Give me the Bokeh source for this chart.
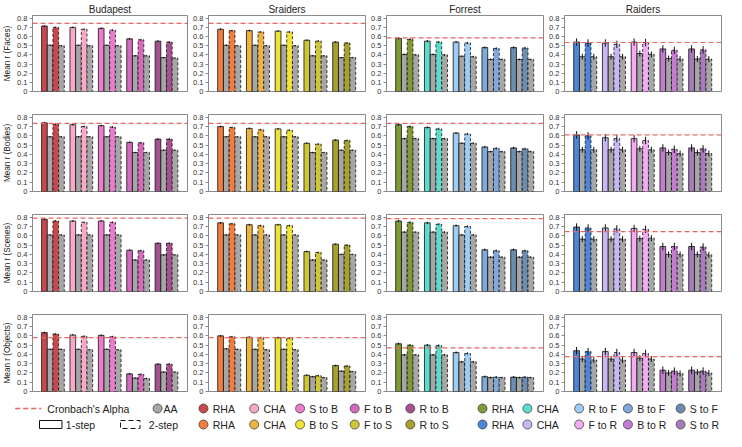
import numpy as np
from bokeh.plotting import figure
from bokeh.layouts import column, row
from bokeh.models import Range1d, Span, FixedTicker, ColumnDataSource
from bokeh.core.properties import value
from bokeh.embed import file_html
from bokeh.resources import INLINE

# ---------------- data ----------------
MOVIES = ["Budapest", "Sraiders", "Forrest", "Raiders"]
CATEGORIES = ["Faces", "Bodies", "Scenes", "Objects"]

MODELS_BUD = ["RHA", "CHA", "S to B", "F to B", "R to B"]
MODELS_SRA = ["RHA", "CHA", "B to S", "F to S", "R to S"]
MODELS_FOR = ["RHA", "CHA", "R to F", "B to F", "S to F"]
MODELS_RAI = ["RHA", "CHA", "F to R", "B to R", "S to R"]

COLORS_BUD = ["#C9484B", "#F7A9C9", "#EC7DCC", "#D56ABD", "#A5508F"]
COLORS_SRA = ["#F27D3F", "#EEB340", "#F0E334", "#CEC636", "#A7A22D"]
COLORS_FOR = ["#7E9B36", "#5DDCCC", "#9DCDF5", "#7FA9DB", "#6C8CB1"]
COLORS_RAI = ["#4A87DB", "#C7B7F5", "#F4ABF3", "#C67BD3", "#AA7BBC"]
AA_COLOR = "#A6A6A6"
ALPHA_COLOR = "#E8675F"

Y_TICKS = [0, 0.1, 0.2, 0.3, 0.4, 0.5, 0.6, 0.7, 0.8]
Y_TICK_LABELS = ["0", "0.1", "0.2", "0.3", "0.4", "0.5", "0.6", "0.7", "0.8"]

# Faces
BUD_FACES_1 = [0.715, 0.700, 0.690, 0.575, 0.550]
BUD_FACES_AA1 = [0.505, 0.505, 0.505, 0.390, 0.370]
BUD_FACES_2 = [0.700, 0.680, 0.670, 0.565, 0.540]
BUD_FACES_AA2 = [0.500, 0.500, 0.500, 0.390, 0.365]
SRA_FACES_1 = [0.680, 0.665, 0.660, 0.560, 0.540]
SRA_FACES_AA1 = [0.505, 0.505, 0.505, 0.390, 0.370]
SRA_FACES_2 = [0.665, 0.650, 0.650, 0.550, 0.530]
SRA_FACES_AA2 = [0.500, 0.500, 0.500, 0.390, 0.370]
FOR_FACES_1 = [0.580, 0.550, 0.540, 0.480, 0.480]
FOR_FACES_AA1 = [0.405, 0.405, 0.385, 0.350, 0.350]
FOR_FACES_2 = [0.570, 0.540, 0.530, 0.470, 0.475]
FOR_FACES_AA2 = [0.400, 0.400, 0.380, 0.350, 0.350]
RAI_FACES_1 = [0.540, 0.530, 0.540, 0.465, 0.465]
RAI_FACES_AA1 = [0.380, 0.380, 0.415, 0.360, 0.355]
RAI_FACES_2 = [0.530, 0.515, 0.535, 0.450, 0.455]
RAI_FACES_AA2 = [0.380, 0.380, 0.405, 0.355, 0.355]

# Bodies
BUD_BODIES_1 = [0.740, 0.720, 0.710, 0.530, 0.565]
BUD_BODIES_AA1 = [0.590, 0.590, 0.590, 0.420, 0.445]
BUD_BODIES_2 = [0.725, 0.700, 0.695, 0.525, 0.565]
BUD_BODIES_AA2 = [0.590, 0.590, 0.590, 0.420, 0.445]
SRA_BODIES_1 = [0.700, 0.680, 0.675, 0.520, 0.555]
SRA_BODIES_AA1 = [0.590, 0.590, 0.590, 0.420, 0.445]
SRA_BODIES_2 = [0.690, 0.665, 0.660, 0.510, 0.550]
SRA_BODIES_AA2 = [0.590, 0.590, 0.590, 0.420, 0.445]
FOR_BODIES_1 = [0.720, 0.690, 0.630, 0.480, 0.470]
FOR_BODIES_AA1 = [0.570, 0.570, 0.520, 0.430, 0.430]
FOR_BODIES_2 = [0.700, 0.675, 0.620, 0.465, 0.460]
FOR_BODIES_AA2 = [0.570, 0.570, 0.520, 0.430, 0.430]
RAI_BODIES_1 = [0.610, 0.580, 0.570, 0.470, 0.470]
RAI_BODIES_AA1 = [0.450, 0.450, 0.460, 0.420, 0.420]
RAI_BODIES_2 = [0.600, 0.570, 0.550, 0.455, 0.460]
RAI_BODIES_AA2 = [0.450, 0.450, 0.450, 0.410, 0.410]

# Scenes
BUD_SCENES_1 = [0.780, 0.760, 0.760, 0.445, 0.520]
BUD_SCENES_AA1 = [0.610, 0.610, 0.610, 0.340, 0.395]
BUD_SCENES_2 = [0.760, 0.745, 0.745, 0.440, 0.520]
BUD_SCENES_AA2 = [0.610, 0.610, 0.610, 0.340, 0.395]
SRA_SCENES_1 = [0.740, 0.720, 0.720, 0.430, 0.510]
SRA_SCENES_AA1 = [0.610, 0.610, 0.610, 0.340, 0.400]
SRA_SCENES_2 = [0.730, 0.710, 0.710, 0.420, 0.500]
SRA_SCENES_AA2 = [0.610, 0.610, 0.610, 0.340, 0.400]
FOR_SCENES_1 = [0.760, 0.740, 0.710, 0.450, 0.450]
FOR_SCENES_AA1 = [0.640, 0.640, 0.610, 0.370, 0.370]
FOR_SCENES_2 = [0.745, 0.725, 0.700, 0.440, 0.440]
FOR_SCENES_AA2 = [0.640, 0.640, 0.610, 0.370, 0.370]
RAI_SCENES_1 = [0.695, 0.685, 0.680, 0.485, 0.485]
RAI_SCENES_AA1 = [0.565, 0.565, 0.570, 0.400, 0.400]
RAI_SCENES_2 = [0.685, 0.675, 0.670, 0.485, 0.480]
RAI_SCENES_AA2 = [0.565, 0.565, 0.575, 0.400, 0.395]

# Objects
BUD_OBJECTS_1 = [0.635, 0.610, 0.605, 0.190, 0.295]
BUD_OBJECTS_AA1 = [0.455, 0.455, 0.455, 0.145, 0.210]
BUD_OBJECTS_2 = [0.620, 0.595, 0.590, 0.185, 0.295]
BUD_OBJECTS_AA2 = [0.455, 0.450, 0.450, 0.140, 0.210]
SRA_OBJECTS_1 = [0.600, 0.585, 0.580, 0.175, 0.280]
SRA_OBJECTS_AA1 = [0.460, 0.455, 0.455, 0.160, 0.220]
SRA_OBJECTS_2 = [0.590, 0.580, 0.575, 0.170, 0.275]
SRA_OBJECTS_AA2 = [0.455, 0.450, 0.450, 0.150, 0.215]
FOR_OBJECTS_1 = [0.515, 0.500, 0.420, 0.160, 0.155]
FOR_OBJECTS_AA1 = [0.395, 0.395, 0.320, 0.150, 0.150]
FOR_OBJECTS_2 = [0.500, 0.495, 0.410, 0.155, 0.155]
FOR_OBJECTS_AA2 = [0.395, 0.395, 0.320, 0.150, 0.150]
RAI_OBJECTS_1 = [0.440, 0.430, 0.420, 0.230, 0.230]
RAI_OBJECTS_AA1 = [0.350, 0.350, 0.360, 0.200, 0.210]
RAI_OBJECTS_2 = [0.430, 0.420, 0.410, 0.220, 0.220]
RAI_OBJECTS_AA2 = [0.340, 0.340, 0.350, 0.195, 0.200]

# Cronbach's alpha (per movie) for each category
ALPHA_FACES = [0.745, 0.745, 0.585, 0.535]
ALPHA_BODIES = [0.735, 0.735, 0.735, 0.610]
ALPHA_SCENES = [0.790, 0.790, 0.785, 0.645]
ALPHA_OBJECTS = [0.580, 0.580, 0.470, 0.375]

# standard errors (model bars, AA bars) per movie
ERR_MODEL = [0.010, 0.010, 0.012, 0.040]
ERR_AA = [0.008, 0.008, 0.010, 0.032]

PANELS = {
    ("Faces", 0): (BUD_FACES_1, BUD_FACES_AA1, BUD_FACES_2, BUD_FACES_AA2),
    ("Faces", 1): (SRA_FACES_1, SRA_FACES_AA1, SRA_FACES_2, SRA_FACES_AA2),
    ("Faces", 2): (FOR_FACES_1, FOR_FACES_AA1, FOR_FACES_2, FOR_FACES_AA2),
    ("Faces", 3): (RAI_FACES_1, RAI_FACES_AA1, RAI_FACES_2, RAI_FACES_AA2),
    ("Bodies", 0): (BUD_BODIES_1, BUD_BODIES_AA1, BUD_BODIES_2, BUD_BODIES_AA2),
    ("Bodies", 1): (SRA_BODIES_1, SRA_BODIES_AA1, SRA_BODIES_2, SRA_BODIES_AA2),
    ("Bodies", 2): (FOR_BODIES_1, FOR_BODIES_AA1, FOR_BODIES_2, FOR_BODIES_AA2),
    ("Bodies", 3): (RAI_BODIES_1, RAI_BODIES_AA1, RAI_BODIES_2, RAI_BODIES_AA2),
    ("Scenes", 0): (BUD_SCENES_1, BUD_SCENES_AA1, BUD_SCENES_2, BUD_SCENES_AA2),
    ("Scenes", 1): (SRA_SCENES_1, SRA_SCENES_AA1, SRA_SCENES_2, SRA_SCENES_AA2),
    ("Scenes", 2): (FOR_SCENES_1, FOR_SCENES_AA1, FOR_SCENES_2, FOR_SCENES_AA2),
    ("Scenes", 3): (RAI_SCENES_1, RAI_SCENES_AA1, RAI_SCENES_2, RAI_SCENES_AA2),
    ("Objects", 0): (BUD_OBJECTS_1, BUD_OBJECTS_AA1, BUD_OBJECTS_2, BUD_OBJECTS_AA2),
    ("Objects", 1): (SRA_OBJECTS_1, SRA_OBJECTS_AA1, SRA_OBJECTS_2, SRA_OBJECTS_AA2),
    ("Objects", 2): (FOR_OBJECTS_1, FOR_OBJECTS_AA1, FOR_OBJECTS_2, FOR_OBJECTS_AA2),
    ("Objects", 3): (RAI_OBJECTS_1, RAI_OBJECTS_AA1, RAI_OBJECTS_2, RAI_OBJECTS_AA2),
}
ALPHAS = {"Faces": ALPHA_FACES, "Bodies": ALPHA_BODIES, "Scenes": ALPHA_SCENES, "Objects": ALPHA_OBJECTS}
COLORS = [COLORS_BUD, COLORS_SRA, COLORS_FOR, COLORS_RAI]
MODELS = [MODELS_BUD, MODELS_SRA, MODELS_FOR, MODELS_RAI]

# ---------------- style / layout ----------------
FONT = "Liberation Sans"
FW, FH = 158, 77
LEFT = [29, 17, 17, 17]
RIGHT = 3
TOP = [14, 17, 17, 17]
BOTTOM = 6
X_START, X_END = -0.72, 4.74
Y_TOP = 0.83
BAR_W = 0.2
OFFSETS = [-0.3, -0.1, 0.1, 0.3]
DASH = "3 2"


def make_panel(cat_i, mov_i):
    cat = CATEGORIES[cat_i]
    w = LEFT[mov_i] + FW + RIGHT
    h = TOP[cat_i] + FH + BOTTOM
    p = figure(width=w, height=h, x_range=Range1d(X_START, X_END), y_range=Range1d(0, Y_TOP),
               output_backend="svg", toolbar_location=None,
               min_border_left=LEFT[mov_i], min_border_right=RIGHT,
               min_border_top=TOP[cat_i], min_border_bottom=BOTTOM)
    p.xaxis.visible = False
    p.xgrid.visible = False
    p.ygrid.visible = False
    p.outline_line_color = "#8a8a8a"
    p.outline_line_width = 1
    ax = p.yaxis[0]
    ax.ticker = FixedTicker(ticks=Y_TICKS)
    ax.major_label_overrides = {t: l for t, l in zip(Y_TICKS, Y_TICK_LABELS)}
    ax.major_label_text_font = FONT
    ax.major_label_text_font_size = "7.5px"
    ax.major_label_text_color = "#333333"
    ax.major_label_standoff = 2
    ax.major_tick_out = 3
    ax.major_tick_in = 0
    ax.minor_tick_out = 0
    ax.minor_tick_in = 0
    ax.axis_line_color = "#8a8a8a"
    ax.major_tick_line_color = "#8a8a8a"
    if mov_i == 0:
        ax.axis_label = "Mean r (" + cat + ")"
        ax.axis_label_text_font = FONT
        ax.axis_label_text_font_size = "8.2px"
        ax.axis_label_text_font_style = "normal"
        ax.axis_label_text_color = "#222222"
        ax.axis_label_standoff = 2

    if cat_i == 0:
        p.title.text = MOVIES[mov_i]
        p.title.align = "center"
        p.title.text_font = FONT
        p.title.text_font_size = "10px"
        p.title.text_font_style = "normal"
        p.title.text_color = "#222222"
        p.title.standoff = 2
        p.title.offset = 0

    vals = PANELS[(cat, mov_i)]
    x = np.arange(len(MODELS[mov_i]))
    errs = [ERR_MODEL[mov_i], ERR_AA[mov_i], ERR_MODEL[mov_i], ERR_AA[mov_i]]
    fills = [COLORS[mov_i], [AA_COLOR] * 5, COLORS[mov_i], [AA_COLOR] * 5]
    dashes = ["solid", "solid", DASH, DASH]
    for k in range(4):
        v = np.array(vals[k])
        src = ColumnDataSource(dict(x=x + OFFSETS[k], top=v, fill=fills[k],
                                    lo=v - errs[k], hi=v + errs[k]))
        p.vbar(x="x", top="top", bottom=0, width=BAR_W, fill_color="fill",
               line_color="#111111", line_width=0.8, line_dash=dashes[k], source=src)
        p.segment(x0="x", x1="x", y0="lo", y1="hi", line_color="#111111",
                  line_width=1, source=src)

    p.add_layout(Span(location=ALPHAS[cat][mov_i], dimension="width", line_color=ALPHA_COLOR,
                      line_width=1.2, line_dash="5 3"))
    return p


rows = []
for ci in range(4):
    rows.append(row(*[make_panel(ci, mi) for mi in range(4)], spacing=0))

# ---------------- legend ----------------
LEG_W = sum(LEFT) + 4 * (FW + RIGHT)
LEG_H = 34
leg = figure(width=LEG_W, height=LEG_H, x_range=Range1d(0, 742), y_range=Range1d(LEG_H, 0),
             output_backend="svg", toolbar_location=None,
             min_border_left=0, min_border_right=0, min_border_top=0, min_border_bottom=0)
leg.axis.visible = False
leg.grid.visible = False
leg.outline_line_color = None

RA, RB = 11, 27
txt = dict(text_font=value(FONT), text_font_size=value("10.5px"), text_baseline="middle",
           text_align="left", text_color="#222222")

leg.segment(x0=[15], x1=[42], y0=[RA], y1=[RA], line_color=ALPHA_COLOR, line_width=1.3, line_dash="5 3")
leg.text(x=[48], y=[RA], text=["Cronbach's Alpha"], **txt)
leg.scatter(x=[161], y=[RA], size=9, fill_color=AA_COLOR, line_color="#444444", line_width=0.8)
leg.text(x=[167], y=[RA], text=["AA"], **txt)
leg.rect(x=[51.5], y=[RB], width=23, height=8, fill_color="white", line_color="#111111", line_width=1)
leg.text(x=[67], y=[RB], text=["1-step"], **txt)
leg.rect(x=[133], y=[RB], width=20, height=8, fill_color="white", line_color="#111111",
         line_width=1, line_dash="5 3")
leg.text(x=[152], y=[RB], text=["2-step"], **txt)

LEG_X = [208, 260, 307, 363, 420, 494, 540, 593, 643, 697]
row_a_names = MODELS_BUD + MODELS_FOR
row_a_cols = COLORS_BUD + COLORS_FOR
row_b_names = MODELS_SRA + MODELS_RAI
row_b_cols = COLORS_SRA + COLORS_RAI
for names, cols, yy in [(row_a_names, row_a_cols, RA), (row_b_names, row_b_cols, RB)]:
    src = ColumnDataSource(dict(x=LEG_X, y=[yy] * 10, c=cols, t=names,
                                tx=[v + 9.5 for v in LEG_X]))
    leg.scatter(x="x", y="y", size=9, fill_color="c", line_color="#444444", line_width=0.8, source=src)
    leg.text(x="tx", y="y", text="t", source=src, **txt)

layout = column(*rows, leg, spacing=0)
open("out.html", "w").write(file_html(layout, INLINE))
